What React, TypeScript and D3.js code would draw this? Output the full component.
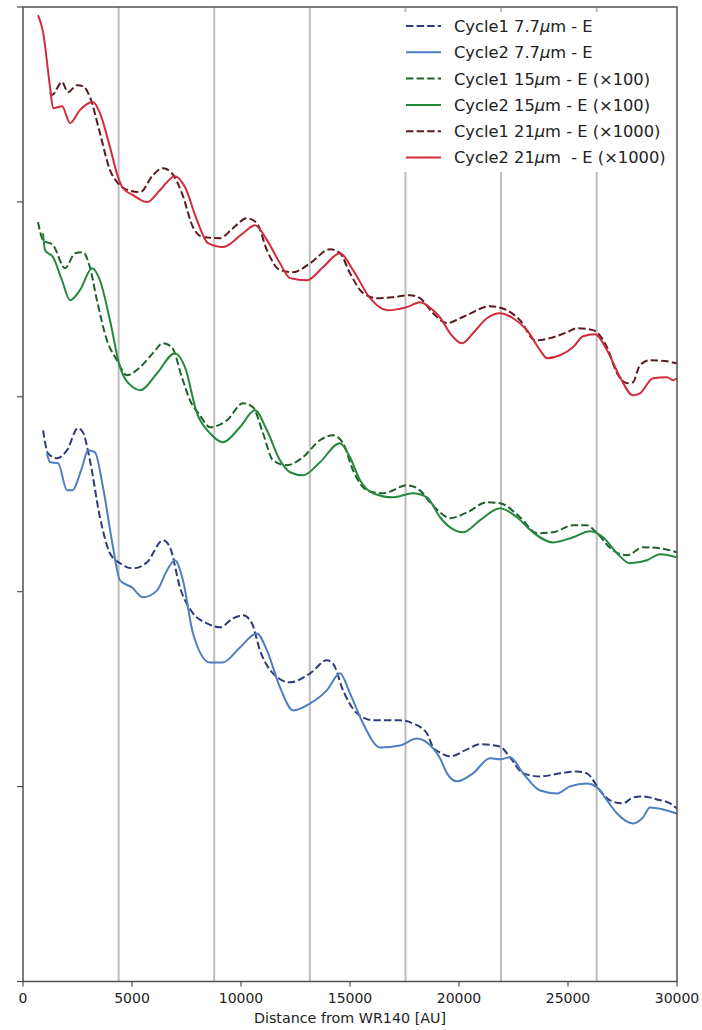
import React from "react";
import * as d3 from "d3";

type P = [number, number];

const xTicks = [0, 5000, 10000, 15000, 20000, 25000, 30000];
const yTicks = [0, 1, 2, 3, 4, 5];
const markerLines = [4386, 8772, 13158, 17544, 21930, 26316];

const cycle1_21: P[] = [[1240,4.56],[1330,4.548],[1790,4.615],[2060,4.563],[2480,4.599],[2750,4.594],[3070,4.538],[3530,4.353],[3990,4.163],[4360,4.096],[4820,4.060],[5370,4.050],[5960,4.137],[6420,4.173],[6830,4.147],[7290,4.045],[7800,3.870],[8260,3.819],[9040,3.814],[9630,3.865],[10270,3.916],[10730,3.891],[11190,3.752],[11790,3.650],[12390,3.639],[13170,3.685],[14080,3.757],[14540,3.737],[15000,3.634],[15600,3.532],[16240,3.506],[16970,3.511],[17750,3.521],[18210,3.506],[18810,3.429],[19450,3.378],[20050,3.403],[20370,3.419],[21420,3.465],[22200,3.444],[22800,3.393],[23490,3.290],[24170,3.301],[24950,3.331],[25410,3.352],[26150,3.342],[26790,3.254],[27250,3.121],[27710,3.070],[27980,3.075],[28300,3.162],[28760,3.188],[29540,3.182],[30000,3.172]];

const cycle2_21: P[] = [[690,4.958],[920,4.871],[1240,4.589],[1380,4.481],[1790,4.491],[2160,4.404],[2610,4.471],[3210,4.512],[3530,4.455],[3990,4.281],[4360,4.127],[4590,4.070],[5050,4.035],[5690,3.999],[6280,4.060],[6970,4.132],[7430,4.076],[7980,3.906],[8490,3.788],[9170,3.768],[10090,3.839],[10640,3.880],[11190,3.804],[11790,3.685],[12250,3.609],[13030,3.598],[13760,3.665],[14540,3.737],[15140,3.650],[15920,3.506],[16700,3.444],[17610,3.460],[18210,3.485],[18810,3.444],[19130,3.408],[19590,3.326],[20140,3.275],[20640,3.326],[21280,3.403],[21880,3.429],[22480,3.403],[23120,3.342],[23720,3.239],[24040,3.198],[24630,3.213],[25230,3.254],[25690,3.311],[26240,3.321],[26790,3.239],[27390,3.100],[27980,3.008],[28300,3.018],[28900,3.095],[29540,3.100],[29820,3.085],[30000,3.095]];

const cycle1_15: P[] = [[690,3.896],[920,3.804],[1380,3.778],[1930,3.660],[2390,3.737],[2750,3.742],[3070,3.665],[3390,3.496],[3850,3.290],[4310,3.188],[4770,3.111],[5370,3.152],[5960,3.224],[6420,3.275],[6830,3.254],[7290,3.100],[7660,2.982],[8120,2.905],[8580,2.844],[9360,2.880],[10090,2.967],[10550,2.946],[11010,2.813],[11470,2.674],[12110,2.649],[12840,2.690],[13620,2.777],[14220,2.803],[14680,2.762],[15140,2.623],[15780,2.520],[16510,2.505],[17620,2.546],[18210,2.520],[18670,2.459],[19130,2.407],[19590,2.377],[20370,2.407],[21280,2.459],[21880,2.454],[22800,2.382],[23580,2.300],[24310,2.305],[25230,2.341],[25870,2.341],[26330,2.300],[27060,2.212],[27710,2.187],[28440,2.228],[29220,2.223],[30000,2.202]];

const cycle2_15: P[] = [[920,3.839],[1010,3.752],[1380,3.716],[1790,3.598],[2160,3.496],[2610,3.547],[3170,3.660],[3530,3.598],[3990,3.393],[4450,3.152],[5050,3.049],[5370,3.034],[6150,3.121],[6970,3.224],[7430,3.152],[7980,2.916],[8580,2.813],[9170,2.767],[9950,2.844],[10640,2.931],[11190,2.828],[11790,2.674],[12250,2.613],[12840,2.597],[13620,2.664],[14540,2.762],[15000,2.690],[15460,2.572],[16060,2.505],[16970,2.484],[17890,2.505],[18530,2.484],[19130,2.382],[19590,2.330],[20180,2.305],[20960,2.366],[21880,2.428],[22660,2.382],[23390,2.305],[24310,2.253],[25230,2.279],[26010,2.310],[26610,2.279],[27250,2.197],[27840,2.146],[28620,2.161],[29220,2.192],[30000,2.176]];

const cycle1_77: P[] = [[920,2.828],[1150,2.710],[1560,2.685],[2020,2.726],[2520,2.839],[2750,2.818],[3070,2.674],[3530,2.382],[3990,2.197],[4450,2.146],[5050,2.120],[5690,2.151],[6420,2.264],[6740,2.228],[7200,2.022],[7800,1.889],[8440,1.838],[9040,1.817],[9630,1.863],[10090,1.879],[10500,1.838],[10870,1.699],[11470,1.581],[12250,1.535],[13170,1.581],[13940,1.648],[14220,1.632],[14680,1.494],[15320,1.376],[16060,1.340],[17290,1.340],[17890,1.324],[18530,1.273],[18810,1.201],[19130,1.175],[19590,1.155],[20370,1.191],[20960,1.217],[21880,1.206],[22340,1.150],[22940,1.068],[23720,1.052],[24630,1.068],[25410,1.078],[25870,1.068],[26470,0.980],[26930,0.929],[27520,0.914],[27980,0.944],[28440,0.950],[29080,0.934],[29680,0.914],[30000,0.888]];

const cycle2_77: P[] = [[1100,2.710],[1240,2.664],[1610,2.659],[2020,2.520],[2250,2.520],[2710,2.638],[2980,2.726],[3300,2.715],[3670,2.536],[4130,2.228],[4450,2.058],[5000,2.022],[5500,1.971],[6150,2.007],[6610,2.110],[6970,2.161],[7340,2.058],[7800,1.786],[8580,1.637],[9170,1.637],[9950,1.714],[10730,1.786],[11190,1.699],[11790,1.509],[12390,1.391],[13170,1.427],[13940,1.494],[14540,1.581],[15000,1.478],[15600,1.324],[16380,1.201],[17290,1.211],[18070,1.247],[18810,1.196],[19130,1.145],[19450,1.068],[19910,1.027],[20640,1.068],[21420,1.145],[21880,1.140],[22340,1.150],[22940,1.068],[23720,0.980],[24500,0.965],[25090,1.001],[25870,1.016],[26330,0.996],[26790,0.929],[27250,0.862],[27980,0.811],[28440,0.842],[28760,0.893],[29360,0.883],[30000,0.862]];

const seriesLabels = [
  ["Cycle1 7.7", "m - E"],
  ["Cycle2 7.7", "m - E"],
  ["Cycle1 15", "m - E (\u00d7100)"],
  ["Cycle2 15", "m - E (\u00d7100)"],
  ["Cycle1 21", "m - E (\u00d71000)"],
  ["Cycle2 21", "m  - E (\u00d71000)"],
];
const seriesData = [cycle1_77, cycle2_77, cycle1_15, cycle2_15, cycle1_21, cycle2_21];
const seriesColors = ["#2f3b7c", "#4e7fc1", "#1f602b", "#238a3b", "#5c1a1f", "#d22b3c"];
const seriesDashed = [true, false, true, false, true, false];

const W = 702, H = 1030;
const L = 23, R = 677, T = 7, B = 981.5;
const FONT = "'DejaVu Sans', sans-serif";

export default function App() {
  const x = d3.scaleLinear().domain([0, 30000]).range([L, R]);
  const y = d3.scaleLinear().domain([0, 5]).range([B, T]);
  const line = d3
    .line<P>()
    .x((d) => x(d[0]))
    .y((d) => y(d[1]))
    .curve(d3.curveMonotoneX);

  const legX = 392, legY = 12, legW = 281, legH = 160;
  const rowY0 = 26, rowStep = 26.3;

  return (
    <svg
      width={W}
      height={H}
      style={{ position: "absolute", left: 0, top: 0, background: "#fff" }}
      fontFamily={FONT}
    >
      <rect x={0} y={0} width={W} height={H} fill="#fff" />
      {markerLines.map((m) => (
        <line key={m} x1={x(m)} x2={x(m)} y1={T} y2={B} stroke="#bdbdbd" strokeWidth={2} />
      ))}
      {seriesData.map((s, i) => (
        <path
          key={i}
          d={line(s) || ""}
          fill="none"
          stroke={seriesColors[i]}
          strokeWidth={2}
          strokeDasharray={seriesDashed[i] ? "7.4,3.2" : undefined}
        />
      ))}
      {/* legend */}
      <rect x={legX} y={legY} width={legW} height={legH} fill="#fff" />
      {seriesLabels.map((lab, i) => {
        const cy = rowY0 + i * rowStep;
        return (
          <g key={i}>
            <line
              x1={406}
              x2={441}
              y1={cy}
              y2={cy}
              stroke={seriesColors[i]}
              strokeWidth={2}
              strokeDasharray={seriesDashed[i] ? "7.4,3.2" : undefined}
            />
            <text x={454} y={cy + 5.9} fontSize={16.3} fill="#222" style={{ whiteSpace: "pre" }}>
              {lab[0]}
              <tspan fontStyle="italic">{"\u03bc"}</tspan>
              {lab[1]}
            </text>
          </g>
        );
      })}
      {/* axes frame */}
      <rect x={L} y={T} width={R - L} height={B - T} fill="none" stroke="#505050" strokeWidth={1.5} />
      {yTicks.map((t) => (
        <line key={t} x1={L - 6} x2={L} y1={y(t)} y2={y(t)} stroke="#505050" strokeWidth={1.2} />
      ))}
      {xTicks.map((t) => (
        <g key={t}>
          <line x1={x(t)} x2={x(t)} y1={B} y2={B + 5} stroke="#505050" strokeWidth={1.2} />
          <text x={x(t)} y={1003} fontSize={14} textAnchor="middle" fill="#222">
            {t}
          </text>
        </g>
      ))}
      <text x={(L + R) / 2} y={1023} fontSize={14.3} textAnchor="middle" fill="#222">
        Distance from WR140 [AU]
      </text>
    </svg>
  );
}
